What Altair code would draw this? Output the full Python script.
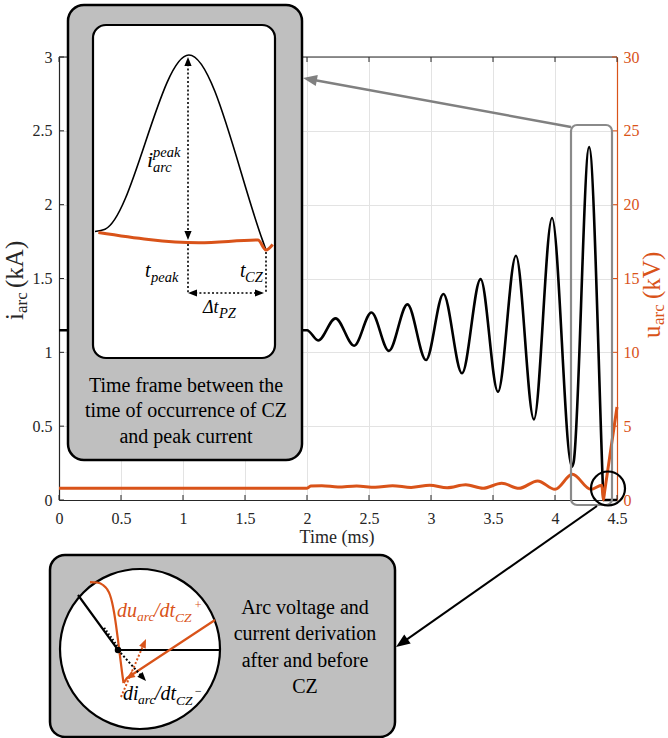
import math
import altair as alt
import pandas as pd

# ---------------------------------------------------------------
# Data
# ---------------------------------------------------------------
# arc current (kA) against time (ms)
time_i = [0.0, 2.0, 2.09, 2.23, 2.38, 2.52, 2.66, 2.81, 2.96, 3.10, 3.25, 3.40,
          3.54, 3.685, 3.83, 3.976, 4.135, 4.15, 4.275, 4.385, 4.39, 4.5]
i_arc = [1.15, 1.15, 1.08, 1.23, 1.045, 1.27, 1.01, 1.325, 0.948, 1.395, 0.858,
         1.496, 0.733, 1.654, 0.546, 1.91, 0.226, 0.255, 2.39, 0.115, 0.0, 0.0]

# arc voltage (kV) against time (ms)
time_u = [0.0, 2.0, 2.03, 2.12, 2.25, 2.40, 2.55, 2.69, 2.84, 2.99, 3.13, 3.28,
          3.42, 3.57, 3.71, 3.86, 4.00, 4.14, 4.29, 4.378, 4.39, 4.40, 4.5]
u_arc = [0.8, 0.8, 0.95, 0.97, 0.88, 0.95, 0.86, 0.97, 0.85, 1.0, 0.83, 1.03,
         0.8, 1.13, 0.79, 1.29, 0.72, 1.74, 0.72, 1.0, 0.0, 0.55, 6.3]

x_ticks = [0, 0.5, 1, 1.5, 2, 2.5, 3, 3.5, 4, 4.5]
i_ticks = [0, 0.5, 1, 1.5, 2, 2.5, 3]
u_ticks = [0, 5, 10, 15, 20, 25, 30]

t_cz = 4.39                    # current zero
zoom_window = [4.135, 4.40]    # last rise to the peak and the current zero

# schematic of the current-zero crossing, in circle units (radius = 1)
cz_current_u = [-0.775, -0.275, 1.0]
cz_current_v = [0.675, -0.0125, -0.0125]
# voltage collapse (smooth part, ending at the voltage minimum)
cz_fall_u = [-0.625, -0.5375, -0.4625, -0.4125, -0.375, -0.35, -0.325, -0.3,
             -0.275, -0.25, -0.225, -0.206]
cz_fall_v = [0.835, 0.831, 0.8, 0.75, 0.675, 0.5875, 0.4625, 0.3,
             0.1125, -0.0875, -0.2875, -0.425]
# recovery voltage rise after CZ (straight part)
cz_rise_u = [-0.206, -0.1625, 0.9375]
cz_rise_v = [-0.425, -0.3625, 0.3625]

# ---------------------------------------------------------------
# Style and layout
# ---------------------------------------------------------------
ORANGE = "#D95319"
AXIS_GRAY = "#262626"
GRID = "#E3E3E3"
BOX_GRAY = "#BFBFBF"
FONT = "Liberation Serif"

X0, Y0, W, H = 59, 57, 558, 443
PAGE_W, PAGE_H = 668, 738

sx_main = alt.Scale(domain=[0, 4.5], nice=False, zero=False)
sy_i = alt.Scale(domain=[0, 3], nice=False)
sy_u = alt.Scale(domain=[0, 30], nice=False)

cur = pd.DataFrame({"t": time_i, "i": i_arc})
volt = pd.DataFrame({"t": time_u, "u": u_arc})

layers = []

# ---------------------------------------------------------------
# Main axes: inward ticks and box
# ---------------------------------------------------------------
TL = 5
one = pd.DataFrame({"v": [3]})
layers.append(alt.Chart(one).mark_rule(color=AXIS_GRAY, strokeWidth=1.2).encode(
    y=alt.Y("v:Q", scale=sy_i, axis=None), x=alt.value(0), x2=alt.value(W)))
layers.append(alt.Chart(pd.DataFrame({"v": x_ticks})).mark_rule(color=AXIS_GRAY, strokeWidth=1).encode(
    x=alt.X("v:Q", scale=sx_main, axis=None), y=alt.value(H), y2=alt.value(H - TL)))
layers.append(alt.Chart(pd.DataFrame({"v": x_ticks})).mark_rule(color=AXIS_GRAY, strokeWidth=1).encode(
    x=alt.X("v:Q", scale=sx_main, axis=None), y=alt.value(0), y2=alt.value(TL)))
layers.append(alt.Chart(pd.DataFrame({"v": i_ticks})).mark_rule(color=AXIS_GRAY, strokeWidth=1).encode(
    y=alt.Y("v:Q", scale=sy_i, axis=None), x=alt.value(0), x2=alt.value(TL)))
layers.append(alt.Chart(pd.DataFrame({"v": u_ticks})).mark_rule(color=ORANGE, strokeWidth=1).encode(
    y=alt.Y("v:Q", scale=sy_u, axis=None), x=alt.value(W), x2=alt.value(W - TL)))

axis_common = dict(labelFont=FONT, labelFontSize=16, ticks=False, tickSize=0,
                   labelFlush=False, labelOverlap=False, domainWidth=1.2, zindex=0, title=None)

layers.append(alt.Chart(cur).mark_line(color="black", strokeWidth=2.6, interpolate="monotone").encode(
    x=alt.X("t:Q", scale=sx_main, axis=alt.Axis(
        values=x_ticks, format="~g", grid=True, gridColor=GRID, gridWidth=1,
        domainColor=AXIS_GRAY, labelColor=AXIS_GRAY, labelPadding=10, **axis_common)),
    y=alt.Y("i:Q", scale=sy_i, axis=alt.Axis(
        values=i_ticks, format="~g", grid=True, gridColor=GRID, gridWidth=1,
        domainColor=AXIS_GRAY, labelColor=AXIS_GRAY, labelPadding=7, **axis_common)),
))
layers.append(alt.Chart(volt).mark_line(color=ORANGE, strokeWidth=3, interpolate="monotone").encode(
    x=alt.X("t:Q", scale=sx_main, axis=None),
    y=alt.Y("u:Q", scale=sy_u, axis=alt.Axis(
        orient="right", values=u_ticks, format="d", grid=False,
        domainColor=ORANGE, labelColor=ORANGE, labelPadding=6, **axis_common)),
))

# ---------------------------------------------------------------
# Helpers for callouts drawn in page pixels
# ---------------------------------------------------------------
PAGE = dict(xs=None, ys=None, sx=1.0, sy=1.0, ox=-X0, oy=-Y0)


def enc_xy(frame, xf="x", yf="y"):
    return dict(x=alt.X(f"{xf}:Q", scale=frame["xs"], axis=None),
                y=alt.Y(f"{yf}:Q", scale=frame["ys"], axis=None))


def box(x1, y1, x2, y2, radius, fill, stroke, sw, fill_opacity=1.0):
    df = pd.DataFrame({"x": [x1 - X0], "x2": [x2 - X0], "y": [y1 - Y0], "y2": [y2 - Y0]})
    return alt.Chart(df).mark_rect(cornerRadius=radius, fill=fill, fillOpacity=fill_opacity,
                                   stroke=stroke, strokeWidth=sw).encode(
        x2="x2:Q", y2="y2:Q", **enc_xy(PAGE))


def segs(rows, frame, color, width, dash=None):
    df = pd.DataFrame([{"x": a + frame["ox"], "y": b + frame["oy"],
                        "x2": c + frame["ox"], "y2": d + frame["oy"]} for a, b, c, d in rows])
    mk = dict(color=color, strokeWidth=width, strokeCap="butt")
    if dash:
        mk["strokeDash"] = dash
    return alt.Chart(df).mark_rule(**mk).encode(x2="x2:Q", y2="y2:Q", **enc_xy(frame))


HEAD = "M0,0L-0.8,2L0.8,2Z"


def heads(rows, frame, color, length):
    """rows: (tip_x, tip_y, from_x, from_y) -> filled arrowheads at the tips."""
    recs = []
    for xt, yt, xf, yf in rows:
        dx = (xt - xf) * frame["sx"]
        dy = (yt - yf) * frame["sy"]
        ang = math.degrees(math.atan2(dx, -dy)) % 360
        recs.append({"x": xt + frame["ox"], "y": yt + frame["oy"], "a": ang})
    return alt.Chart(pd.DataFrame(recs)).mark_point(
        shape=HEAD, filled=True, color=color, opacity=1, size=length ** 2, strokeWidth=0).encode(
        angle=alt.Angle("a:Q", scale=None), **enc_xy(frame))


def arrow(start, tip, frame, color, width, length, dash=None, both=False):
    (x1, y1), (x2, y2) = start, tip
    L = math.hypot((x2 - x1) * frame["sx"], (y2 - y1) * frame["sy"])
    k = 0.8 * length / L
    xe, ye = x2 - (x2 - x1) * k, y2 - (y2 - y1) * k
    xs, ys = x1, y1
    hs = [(x2, y2, x1, y1)]
    if both:
        xs, ys = x1 + (x2 - x1) * k, y1 + (y2 - y1) * k
        hs.append((x1, y1, x2, y2))
    return [segs([(xs, ys, xe, ye)], frame, color, width, dash), heads(hs, frame, color, length)]


def texts(rows, italic=False, color="black", align="left", angle=None):
    df = pd.DataFrame([{"s": s, "x": x - X0, "y": y - Y0, "fs": fs} for s, x, y, fs in rows])
    mk = dict(font=FONT, align=align, baseline="alphabetic", color=color)
    if italic:
        mk["fontStyle"] = "italic"
    if angle is not None:
        mk["angle"] = angle
    return alt.Chart(df).mark_text(**mk).encode(
        text="s:N", size=alt.Size("fs:Q", scale=None, legend=None), **enc_xy(PAGE))


def ring(cx, cy, r, stroke, sw, fill=None):
    df = pd.DataFrame({"x": [cx - X0], "y": [cy - Y0]})
    if fill:
        mk = alt.Chart(df).mark_point(shape="circle", filled=True, fill=fill, stroke=stroke,
                                      strokeWidth=sw, opacity=1, size=(2 * r) ** 2)
    else:
        mk = alt.Chart(df).mark_point(shape="circle", filled=False, stroke=stroke,
                                      strokeWidth=sw, opacity=1, size=(2 * r) ** 2)
    return mk.encode(**enc_xy(PAGE))


# ---------------------------------------------------------------
# Highlights on the main plot and their leader arrows
# ---------------------------------------------------------------
layers.append(box(571, 125, 612, 505, 6, "white", "#8A8A8A", 2.2, fill_opacity=0))
layers.append(ring(608, 488.5, 17, "black", 2.2))
layers += arrow((571, 127), (303, 78), PAGE, "#808080", 2.5, 14)

# ---------------------------------------------------------------
# Upper callout: time between peak current and CZ
# ---------------------------------------------------------------
layers.append(box(68, 5, 302, 460, 16, BOX_GRAY, "black", 2.5))
layers.append(box(93, 25, 275, 358, 13, "white", "black", 2.2))

IN_XA, IN_XCZ, IN_Y0 = 95, 266, 250
px_per_ms = (IN_XCZ - IN_XA) / (t_cz - zoom_window[0])
sx_zoom = alt.Scale(domain=zoom_window, nice=False, zero=False,
                    range=[IN_XA - X0, IN_XA - X0 + (zoom_window[1] - zoom_window[0]) * px_per_ms])
sy_zoom_i = alt.Scale(domain=[0, 3], nice=False, range=[IN_Y0 - Y0, IN_Y0 - Y0 - 3 * 81.6])
sy_zoom_u = alt.Scale(domain=[0, 3], nice=False, range=[IN_Y0 - Y0, IN_Y0 - Y0 - 30])
win = f"datum.t >= {zoom_window[0]} && datum.t <= {zoom_window[1]}"

layers.append(alt.Chart(cur).transform_filter(win).mark_line(
    color="black", strokeWidth=1.6, interpolate="monotone").encode(
    x=alt.X("t:Q", scale=sx_zoom, axis=None), y=alt.Y("i:Q", scale=sy_zoom_i, axis=None)))
layers.append(alt.Chart(volt).transform_filter(win).mark_line(
    color=ORANGE, strokeWidth=3, interpolate="monotone").encode(
    x=alt.X("t:Q", scale=sx_zoom, axis=None), y=alt.Y("u:Q", scale=sy_zoom_u, axis=None)))

DOT = [2, 2.2]
layers += arrow((188, 57), (188, 240), PAGE, "black", 1.6, 9, dash=DOT, both=True)
layers.append(segs([(188, 244, 188, 293), (266, 252, 266, 293)], PAGE, "black", 1.6, DOT))
layers += arrow((188, 293), (264, 293), PAGE, "black", 1.6, 9, dash=DOT, both=True)

layers.append(texts([("i", 147, 167, 22), ("peak", 153, 157, 14.5), ("arc", 153, 172, 14.5),
                     ("t", 145, 277, 20), ("peak", 151, 282, 14.5),
                     ("t", 240, 277, 20), ("CZ", 245, 282, 14.5),
                     ("\u0394t", 203, 313, 18), ("PZ", 219, 318, 14.5)], italic=True))
layers.append(texts([("Time frame between the", 186, 392, 20),
                     ("time of occurrence of CZ", 186, 417, 20),
                     ("and peak current", 186, 443, 20)], align="center"))

# ---------------------------------------------------------------
# Lower callout: current and voltage slopes around CZ
# ---------------------------------------------------------------
layers.append(box(50, 555, 395, 737, 15, BOX_GRAY, "black", 2.5))
CX, CY, CR = 140, 649, 80
layers.append(ring(CX, CY, CR, "black", 2.2, fill="white"))

sx_cz = alt.Scale(domain=[-1, 1], nice=False, zero=False, range=[CX - CR - X0, CX + CR - X0])
sy_cz = alt.Scale(domain=[-1, 1], nice=False, zero=False, range=[CY + CR - Y0, CY - CR - Y0])
CIRC = dict(xs=sx_cz, ys=sy_cz, sx=CR, sy=-CR, ox=0, oy=0)

cz_i = pd.DataFrame({"x": cz_current_u, "y": cz_current_v})
cz_fall = pd.DataFrame({"x": cz_fall_u, "y": cz_fall_v})
cz_rise = pd.DataFrame({"x": cz_rise_u, "y": cz_rise_v})
layers.append(alt.Chart(cz_i).mark_line(color="black", strokeWidth=2.2).encode(**enc_xy(CIRC)))
layers.append(alt.Chart(cz_fall).mark_line(color=ORANGE, strokeWidth=2.2, interpolate="monotone").encode(**enc_xy(CIRC)))
layers.append(alt.Chart(cz_rise).mark_line(color=ORANGE, strokeWidth=2.2, strokeJoin="round").encode(**enc_xy(CIRC)))
layers.append(segs([(-0.45, 0.2625, -0.2875, 0.0375)], CIRC, "black", 2.6, [1.5, 2]))
layers += arrow((-0.275, -0.0125), (0.075, -0.4), CIRC, "black", 2, 9, dash=[2, 2])
layers += arrow((-0.2375, -0.6), (0.075, 0.125), CIRC, ORANGE, 2, 9, dash=[2, 2])
layers.append(heads([(-0.175, -0.375, 0.2, -0.125)], CIRC, ORANGE, 9))
layers.append(alt.Chart(pd.DataFrame({"x": [cz_current_u[1]], "y": [cz_current_v[1]]})).mark_point(
    shape="circle", filled=True, color="black", opacity=1, size=42).encode(**enc_xy(CIRC)))

layers.append(texts([("du", 117, 617, 20), ("arc", 137, 621, 13.5), ("/dt", 154, 617, 20),
                     ("CZ", 175, 622, 13.5), ("+", 194, 609, 12)], italic=True, color=ORANGE))
layers.append(texts([("di", 123, 700, 20), ("arc", 138, 704, 13.5), ("/dt", 155, 700, 20),
                     ("CZ", 176, 705, 13.5), ("\u2212", 194, 695, 12)], italic=True))
layers.append(texts([("Arc voltage and", 305, 614, 20), ("current derivation", 305, 640, 20),
                     ("after and before", 305, 667, 20), ("CZ", 305, 693, 20)], align="center"))

layers += arrow((597, 506), (396, 647), PAGE, "black", 2, 14)

# ---------------------------------------------------------------
# Axis titles
# ---------------------------------------------------------------
layers.append(texts([("Time (ms)", 337, 543, 18)], align="center", color=AXIS_GRAY))
layers.append(texts([("i", 23, 320, 25), ("arc", 27, 313, 17), ("(kA)", 23, 288, 25)],
                    color=AXIS_GRAY, angle=270))
layers.append(texts([("u", 660, 338, 25), ("arc", 664, 325, 17), ("(kV)", 660, 299, 25)],
                    color=ORANGE, angle=270))

chart = alt.layer(*layers).resolve_scale(x="independent", y="independent").properties(
    width=W, height=H,
    autosize=alt.AutoSizeParams(type="none"),
    padding={"left": X0, "top": Y0, "right": PAGE_W - X0 - W, "bottom": PAGE_H - Y0 - H},
    background="white",
).configure_view(stroke=None)

chart.save("out.html", embed_options={"renderer": "svg", "actions": False})
